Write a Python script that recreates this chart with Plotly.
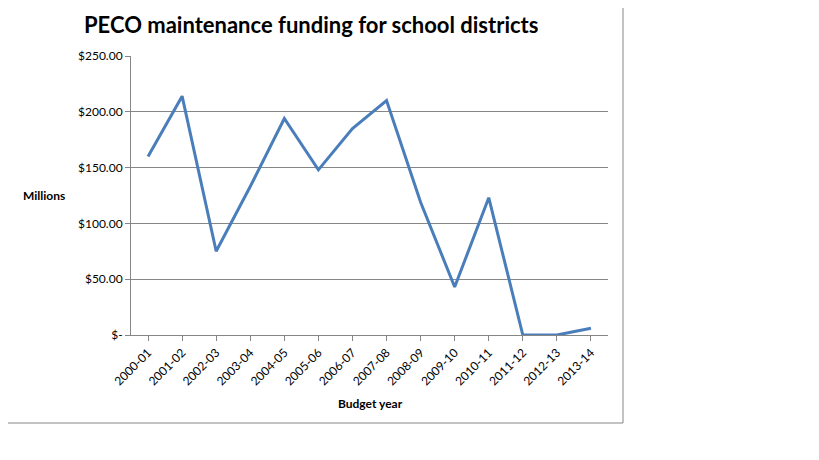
import plotly.graph_objects as go

years = ["2000-01","2001-02","2002-03","2003-04","2004-05","2005-06","2006-07",
         "2007-08","2008-09","2009-10","2010-11","2011-12","2012-13","2013-14"]
funding = [160, 214, 75, 133, 194, 148, 185, 210, 119, 43, 123, 0, 0, 6]
ytick_vals = [0, 50, 100, 150, 200, 250]
ytick_text = ["$-", "$50.00", "$100.00", "$150.00", "$200.00", "$250.00"]

fig = go.Figure(go.Scatter(x=list(range(len(years))), y=funding, mode="lines",
                           line=dict(color="#4A7EBB", width=3)))
W, H = 477, 279
L, T = 131, 56
fig.update_layout(
    width=811, height=452, paper_bgcolor="white", plot_bgcolor="white",
    margin=dict(l=L - 8, r=211, t=T - 8, b=125), showlegend=False,
    font=dict(family="Lato, Open Sans, sans-serif", size=12, color="black"),
    xaxis=dict(range=[-0.5, 13.5], tickvals=list(range(len(years))), ticktext=years,
               tickangle=-45, showgrid=False, showline=True, linecolor="#868686",
               ticks="outside", ticklen=5, tickcolor="#868686", zeroline=False),
    yaxis=dict(range=[0, 250], tickvals=ytick_vals, ticktext=ytick_text,
               showgrid=True, gridcolor="#868686", showline=True, linecolor="#868686",
               ticks="outside", ticklen=5, tickcolor="#868686", zeroline=False),
    shapes=[dict(type="rect", xref="paper", yref="paper",
                 x0=-L/W, x1=(623-L)/W, y0=(335-423)/H, y1=335/H,
                 line=dict(color="#868686", width=1))],
    annotations=[
        dict(text="<b>PECO maintenance funding for school districts</b>", xref="paper", yref="paper",
             x=(311-L)/W, y=(335-25)/H, yanchor="middle", xanchor="center",
             showarrow=False, font=dict(size=22)),
        dict(text="<b>Millions</b>", xref="paper", yref="paper", x=(44-L)/W, y=(335-195)/H,
             yanchor="middle", xanchor="center", showarrow=False, font=dict(size=12)),
        dict(text="<b>Budget year</b>", xref="paper", yref="paper", x=(370-L)/W, y=(335-403)/H,
             yanchor="middle", xanchor="center", showarrow=False, font=dict(size=12)),
    ],
)
fig.write_html("out.html")
